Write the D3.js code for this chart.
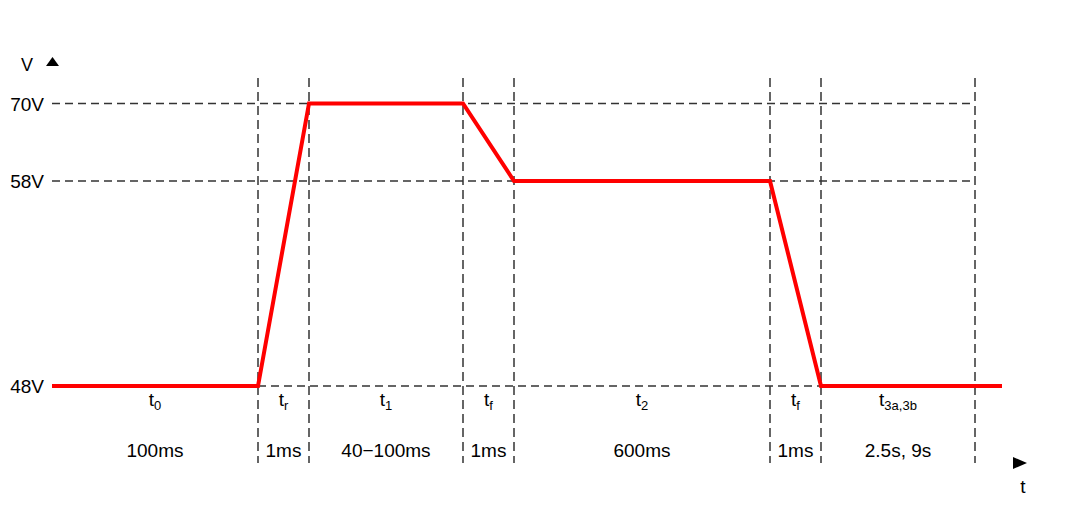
<!DOCTYPE html>
<html>
<head>
<meta charset="utf-8">
<script src="https://d3js.org/d3.v7.min.js"></script>
<style>
  body { margin: 0; background: #fff; }
  text { font-family: Arial, "Liberation Sans", sans-serif; fill: #000; }
</style>
</head>
<body>
<svg width="1080" height="516"></svg>
<script>
  // Voltage levels shown on the axis
  const levels = [48, 58, 70];
  const levelLabels = ['48V', '58V', '70V'];

  // Phases of the pulse (schematic, one slot each)
  const phaseNames = [['t', '0'], ['t', 'r'], ['t', '1'], ['t', 'f'], ['t', '2'], ['t', 'f'], ['t', '3a,3b']];
  const phaseDurations = ['100ms', '1ms', '40\u2212100ms', '1ms', '600ms', '1ms', '2.5s, 9s'];

  // Waveform: [phase boundary, volts]
  const wave = [[0, 48], [1, 48], [2, 70], [3, 70], [4, 58], [5, 58], [6, 48], [7.16, 48]];

  const svg = d3.select('svg');

  // x is piecewise: each phase boundary gets its own spot on the page
  const x = d3.scaleLinear()
    .domain([0, 1, 2, 3, 4, 5, 6, 7, 7.16])
    .range([52, 258, 309, 463, 514, 770, 821, 975, 1002]);

  // y is piecewise too (drawing is not to scale)
  const y = d3.scaleLinear()
    .domain([48, 58, 70])
    .range([386, 181, 103.5]);

  const dash = '#333';

  // Horizontal dashed guides
  levels.forEach(function(v) {
    svg.append('line')
      .attr('x1', v === 48 ? x(1) : x(0))
      .attr('x2', x(7))
      .attr('y1', y(v))
      .attr('y2', y(v))
      .attr('stroke', dash)
      .attr('stroke-width', 1.3)
      .attr('stroke-dasharray', '8,5');
  });

  // Vertical dashed guides
  for (let i = 1; i <= 7; i++) {
    svg.append('line')
      .attr('x1', x(i))
      .attr('x2', x(i))
      .attr('y1', 78)
      .attr('y2', 463)
      .attr('stroke', dash)
      .attr('stroke-width', 1.5)
      .attr('stroke-dasharray', '9,5');
  }

  // Level labels
  levels.forEach(function(v, i) {
    svg.append('text')
      .attr('x', 44)
      .attr('y', y(v) + 7)
      .attr('text-anchor', 'end')
      .style('font-size', '19px')
      .text(levelLabels[i]);
  });

  // Axis label V with up arrow
  svg.append('text')
    .attr('x', 21)
    .attr('y', 71)
    .style('font-size', '18px')
    .text('V');
  svg.append('path')
    .attr('d', 'M46,66 L59,66 L52.5,57 Z')
    .attr('fill', '#000');

  // Axis label t with right arrow
  svg.append('path')
    .attr('d', 'M1013,457 L1013,469 L1027,463 Z')
    .attr('fill', '#000');
  svg.append('text')
    .attr('x', 1023)
    .attr('y', 493)
    .attr('text-anchor', 'middle')
    .style('font-size', '19px')
    .text('t');

  // Phase names and durations
  phaseNames.forEach(function(n, i) {
    const cx = (x(i) + x(i + 1)) / 2;
    const t = svg.append('text')
      .attr('x', cx)
      .attr('y', 406)
      .attr('text-anchor', 'middle')
      .style('font-size', '19px');
    t.append('tspan').text(n[0]);
    t.append('tspan')
      .attr('dy', 4)
      .style('font-size', '13px')
      .text(n[1]);

    svg.append('text')
      .attr('x', cx)
      .attr('y', 457)
      .attr('text-anchor', 'middle')
      .style('font-size', '19px')
      .text(phaseDurations[i]);
  });

  // Waveform
  svg.append('path')
    .datum(wave)
    .attr('d', d3.line().x(d => x(d[0])).y(d => y(d[1])))
    .attr('fill', 'none')
    .attr('stroke', '#ff0000')
    .attr('stroke-width', 4)
    .attr('stroke-linejoin', 'miter');
</script>
</body>
</html>
